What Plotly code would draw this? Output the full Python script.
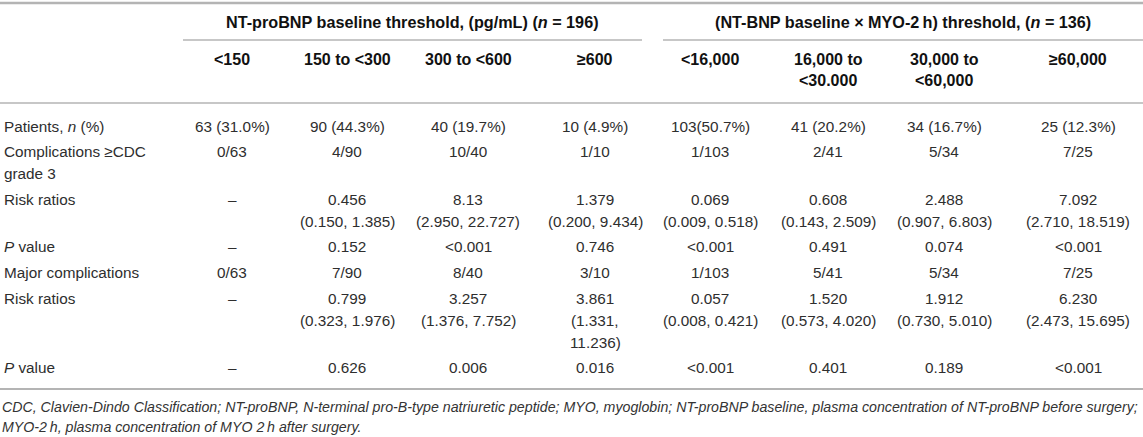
import re
import textwrap
import plotly.graph_objects as go

# table contents
group_titles = ["NT-proBNP baseline threshold, (pg/mL) (<i>n</i> = 196)",
                "(NT-BNP baseline \u00d7 MYO-2\u2009h) threshold, (<i>n</i> = 136)"]
col_labels = ["<150", "150 to <300", "300 to <600", "\u2265600",
              "<16,000", "16,000 to <30.000", "30,000 to <60,000", "\u226560,000"]
row_labels = ["Patients, n (%)", "Complications \u2265CDC grade 3", "Risk ratios", "P value",
              "Major complications", "Risk ratios", "P value"]

patients = ["63 (31.0%)", "90 (44.3%)", "40 (19.7%)", "10 (4.9%)",
            "103(50.7%)", "41 (20.2%)", "34 (16.7%)", "25 (12.3%)"]
cdc3 = ["0/63", "4/90", "10/40", "1/10", "1/103", "2/41", "5/34", "7/25"]
rr_cdc3 = ["\u2013", "0.456", "8.13", "1.379", "0.069", "0.608", "2.488", "7.092"]
rr_cdc3_ci = ["", "(0.150, 1.385)", "(2.950, 22.727)", "(0.200, 9.434)",
              "(0.009, 0.518)", "(0.143, 2.509)", "(0.907, 6.803)", "(2.710, 18.519)"]
p_cdc3 = ["\u2013", "0.152", "<0.001", "0.746", "<0.001", "0.491", "0.074", "<0.001"]
major = ["0/63", "7/90", "8/40", "3/10", "1/103", "5/41", "5/34", "7/25"]
rr_major = ["\u2013", "0.799", "3.257", "3.861", "0.057", "1.520", "1.912", "6.230"]
rr_major_ci = ["", "(0.323, 1.976)", "(1.376, 7.752)", "(1.331, 11.236)",
               "(0.008, 0.421)", "(0.573, 4.020)", "(0.730, 5.010)", "(2.473, 15.695)"]
p_major = ["\u2013", "0.626", "0.006", "0.016", "<0.001", "0.401", "0.189", "<0.001"]

footnote = ["CDC, Clavien-Dindo Classification; NT-proBNP, N-terminal pro-B-type natriuretic peptide; "
            "MYO, myoglobin; NT-proBNP baseline, plasma concentration of NT-proBNP before surgery;",
            "MYO-2\u2009h, plasma concentration of MYO 2\u2009h after surgery."]

# layout (pixels)
W, H = 1143, 437
col_x = [232, 347, 468, 595, 710, 828, 944, 1078]
body_wrap = [15, 15, 15, 14, 15, 15, 15, 15]
line_h = 22
row_gap = 25.6
font = "Liberation Sans, Arial, sans-serif"
txt_col = "#2e2e2e"
rule_col = "#b4b4b4"


def cell(*parts):
    return [p for p in parts if p]


rows = [
    [cell(v) for v in patients],
    [cell(v) for v in cdc3],
    [cell(v, c) for v, c in zip(rr_cdc3, rr_cdc3_ci)],
    [cell(v) for v in p_cdc3],
    [cell(v) for v in major],
    [cell(v, c) for v, c in zip(rr_major, rr_major_ci)],
    [cell(v) for v in p_major],
]


def italics(s):
    s = re.sub(r"^P value", "<i>P</i> value", s)
    return s.replace(", n (", ", <i>n</i> (")


def esc(s):
    return s.replace("<", "&lt;").replace("&lt;i>", "<i>").replace("&lt;/i>", "</i>")


fig = go.Figure()
fig.add_trace(go.Scatter(x=[0, W], y=[0, H], mode="markers", marker=dict(opacity=0),
                         hoverinfo="skip", showlegend=False))

ann = []


def put(x, y, text, anchor="center", bold=False, italic=False, size=15.3, color=txt_col):
    t = esc(text)
    if bold:
        t = "<b>" + t + "</b>"
    if italic:
        t = "<i>" + t + "</i>"
    ann.append(dict(x=x, y=y, text=t, xanchor=anchor, yanchor="middle", showarrow=False,
                    font=dict(family=font, size=size, color=color)))


# group headers
put(412, 22, group_titles[0], bold=True, size=16.2, color="#111")
put(903, 22, group_titles[1], bold=True, size=16.2, color="#111")

# column headers
for i, lab in enumerate(col_labels):
    for k, line in enumerate(textwrap.wrap(lab, 12)):
        put(col_x[i], 59 + k * 21, line, bold=True, size=16, color="#111")

# body
y = 126
for r, lab in enumerate(row_labels):
    label_lines = textwrap.wrap(lab, 19)
    cells = []
    for i, parts in enumerate(rows[r]):
        lines = []
        for p in parts:
            lines += textwrap.wrap(p, body_wrap[i]) if len(p) > body_wrap[i] else [p]
        cells.append(lines)
    for k, line in enumerate(label_lines):
        put(2, y + k * line_h, italics(line), anchor="left")
    for i, lines in enumerate(cells):
        for k, line in enumerate(lines):
            put(col_x[i], y + k * line_h, line)
    n = max([len(label_lines)] + [len(c) for c in cells])
    y += (n - 1) * line_h + row_gap

# footnote
for k, line in enumerate(footnote):
    put(0, 407 + k * 19.5, line, anchor="left", italic=True, size=14.2, color="#333")

shapes = [
    dict(type="line", x0=0, x1=W, y0=3, y1=3, line=dict(color=rule_col, width=2.5)),
    dict(type="line", x0=183, x1=642, y0=40, y1=40, line=dict(color=rule_col, width=1.5)),
    dict(type="line", x0=663, x1=W, y0=40, y1=40, line=dict(color=rule_col, width=1.5)),
    dict(type="line", x0=0, x1=W, y0=103, y1=103, line=dict(color=rule_col, width=1.5)),
    dict(type="line", x0=0, x1=W, y0=389, y1=389, line=dict(color=rule_col, width=2)),
]

fig.update_layout(
    width=W, height=H,
    margin=dict(l=0, r=0, t=0, b=0),
    paper_bgcolor="white", plot_bgcolor="white",
    xaxis=dict(range=[0, W], visible=False, fixedrange=True),
    yaxis=dict(range=[H, 0], visible=False, fixedrange=True),
    annotations=ann, shapes=shapes,
)

fig.write_html("out.html", config={"displayModeBar": False},
               post_script="document.body.style.margin='0';")
